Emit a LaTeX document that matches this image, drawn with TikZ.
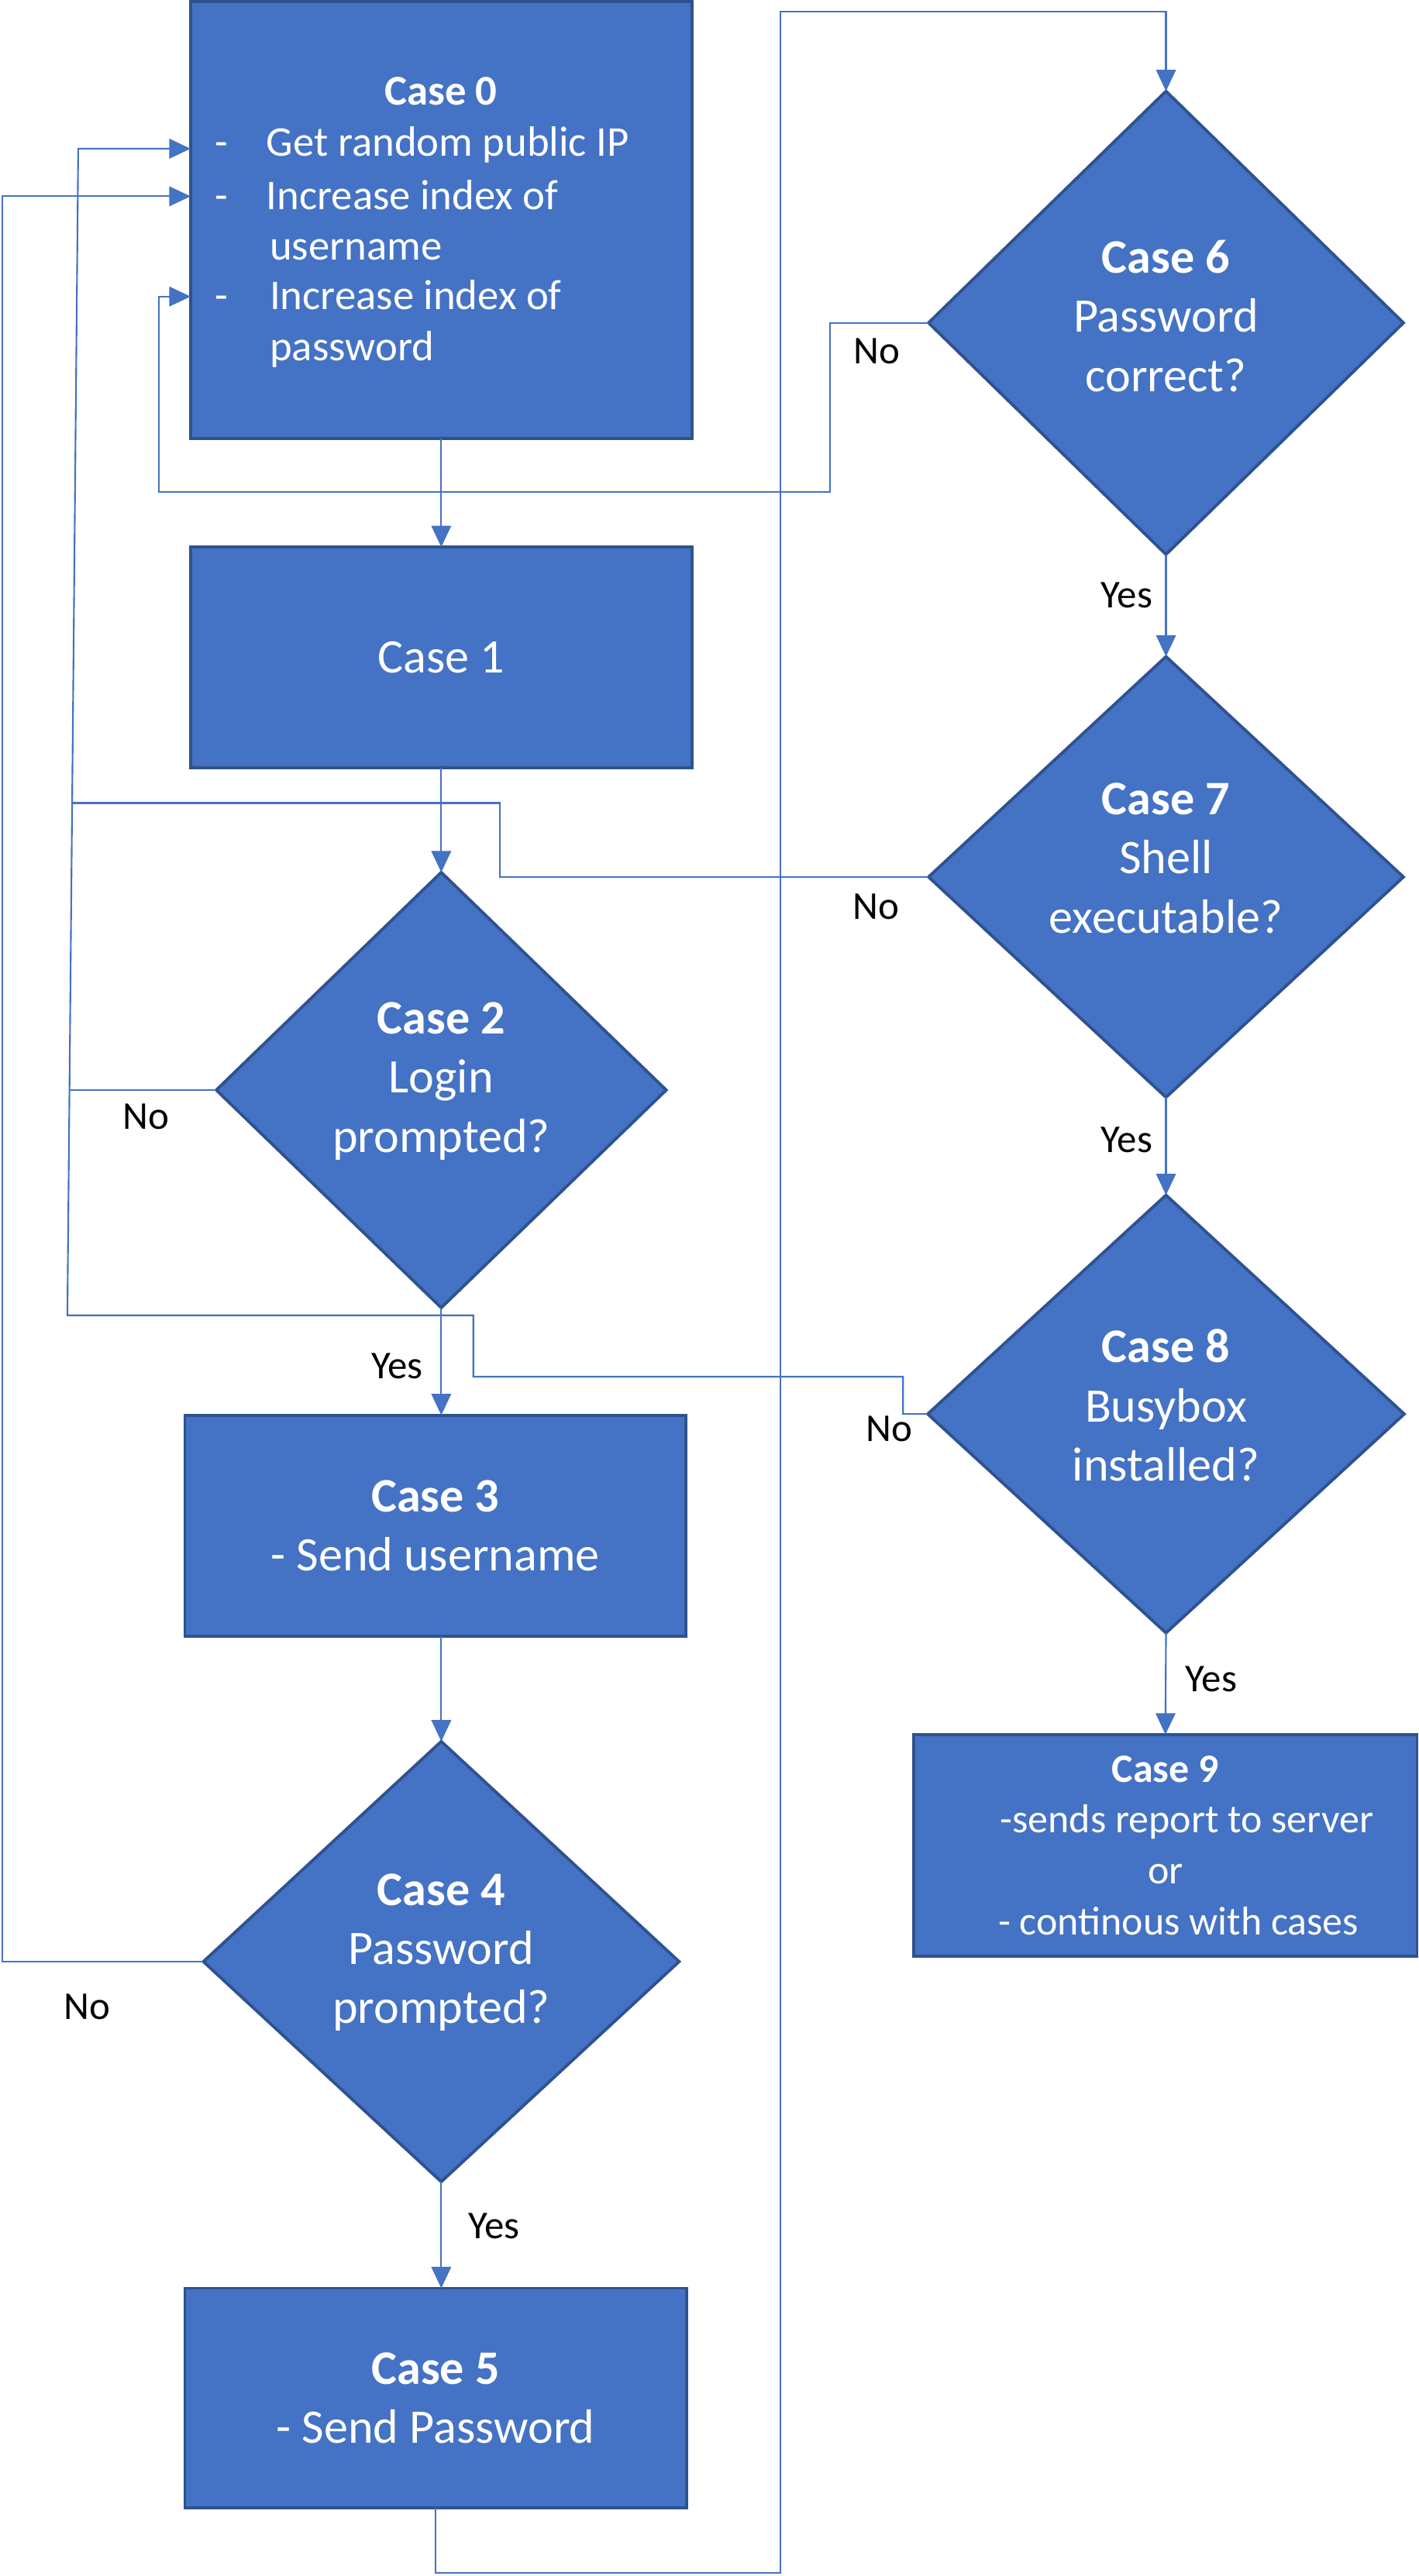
\documentclass[tikz,border=0pt]{standalone}
\usepackage{fontspec}
\setmainfont{Carlito}
\usetikzlibrary{shapes.geometric,arrows.meta}
\definecolor{fillc}{HTML}{4472C4}
\definecolor{bdr}{HTML}{2F528F}
\definecolor{lc}{HTML}{4472C4}
\tikzset{
  box/.style={draw=bdr, fill=fillc, line width=1.8pt, rectangle, inner sep=0pt, outer sep=0pt},
  dia/.style={draw=bdr, fill=fillc, line width=1.8pt, diamond, inner sep=0pt, outer sep=0pt},
  wt/.style={text=white, font=\fontsize{29.3}{36}\selectfont, align=center, inner sep=0pt},
  wts/.style={text=white, font=\fontsize{25.8}{31}\selectfont, inner sep=0pt},
  lbl/.style={text=black, font=\fontsize{24}{29}\selectfont, inner sep=0pt},
  conn/.style={draw=lc, line width=1pt},
  arr/.style={conn, -{Triangle[length=13pt,width=12pt]}},
}
\begin{document}
\begin{tikzpicture}[x=1pt,y=-1pt]
\useasboundingbox (0,0) rectangle (863,1568);

% ---------- shapes ----------
\node[box, minimum width=305pt, minimum height=266pt] (c0) at (268.5,134) {};
\node[box, minimum width=305pt, minimum height=134.4pt, wt] (c1) at (268.5,400.2) {Case 1};
\node[dia, minimum width=273.8pt, minimum height=265pt] (c2) at (268.5,663.5) {};
\node[box, minimum width=304.8pt, minimum height=134.6pt, wt] (c3) at (264.9,928.7) {\textbf{Case 3}\\- Send username};
\node[dia, minimum width=289.5pt, minimum height=268pt] (c4) at (268.5,1194) {};
\node[box, minimum width=305.2pt, minimum height=133.8pt, wt] (c5) at (265.1,1459.7) {\textbf{Case 5}\\- Send Password};
\node[dia, minimum width=289pt, minimum height=282pt] (c6) at (709.5,196.5) {};
\node[dia, minimum width=289pt, minimum height=268.3pt] (c7) at (709.5,533.8) {};
\node[dia, minimum width=290pt, minimum height=266.5pt] (c8) at (709.5,860.7) {};
\node[box, minimum width=306.3pt, minimum height=134.8pt, wt, font=\fontsize{24.5}{31}\selectfont] (c9) at (709.15,1123.2)
  {\textbf{Case 9}\\\hspace*{26pt}-sends report to server\\or\\\hspace*{16pt}- continous with cases};

% ---------- Case 0 text ----------
\node[wts, font=\fontsize{25.8}{31}\selectfont\bfseries, anchor=base] (c0t) at (268.3,64) {Case 0};
\node[wts, anchor=base] (c0d1) at (135,95) {-};
\node[wts, anchor=base] (c0d2) at (135,127.5) {-};
\node[wts, anchor=base] (c0d3) at (135,188.5) {-};
\node[wts, anchor=base west] (c0l1) at (162,95) {Get random public IP};
\node[wts, anchor=base west] (c0l2) at (162,127.5) {Increase index of};
\node[wts, anchor=base west] (c0l3) at (164,158) {username};
\node[wts, anchor=base west] (c0l4) at (164,188.5) {Increase index of};
\node[wts, anchor=base west] (c0l5) at (164,219.5) {password};

% ---------- diamond texts ----------
\node[wt] (c2t) at (268.5,658) {\textbf{Case 2}\\Login\\prompted?};
\node[wt] (c4t) at (268.5,1188.5) {\textbf{Case 4}\\Password\\prompted?};
\node[wt] (c6t) at (709.5,192.3) {\textbf{Case 6}\\Password\\correct?};
\node[wt] (c7t) at (709.5,522.4) {\textbf{Case 7}\\Shell\\executable?};
\node[wt] (c8t) at (709.5,855.4) {\textbf{Case 8}\\Busybox\\installed?};

% ---------- waypoints ----------
\coordinate (k1) at (475,1566);
\coordinate (k2) at (709.5,7);
\coordinate (j1) at (505,299.6);
\coordinate (j2) at (96.5,180.5);
\coordinate (m1) at (304,488.8);
\coordinate (m2) at (43.9,488.8);
\coordinate (m3) at (42.3,663.5);
\coordinate (n1) at (549.5,838);
\coordinate (n2) at (288,800.6);
\coordinate (n3) at (41,800.6);
\coordinate (n4) at (47.6,90.5);
\coordinate (q1) at (1.5,119.5);

% ---------- connectors ----------
\draw[arr] (c0.south) -- (c1.north);
\draw[arr] (c1.south) -- (c2.north);
\draw[arr] (c2.south) -- (c2.south |- c3.north);
\draw[arr] (c4.north |- c3.south) -- (c4.north);
\draw[arr] (c4.south) -- (c4.south |- c5.north);
\draw[arr] (c5.south) |- (k1) |- (k2) -- (c6.north);
\draw[arr] (c6.south) -- (c7.north);
\draw[arr] (c7.south) -- (c8.north);
\draw[arr] (c8.south) -- (c9.north);
\draw[arr] (c6.west) -| (j1) -| (j2) -- (c0.west |- j2);
\draw[conn] (c7.west) -| (m1) -- (m2);
\draw[conn] (c2.west) -- (m3);
\draw[arr] (c8.west) -| (n1) -| (n2) -- (n3) -- (n4) -- (c0.west |- n4);
\draw[arr] (c4.west) -| (q1) -- (c0.west |- q1);

% ---------- labels ----------
\node[lbl] (y23) at (241.6,831.7) {Yes};
\node[lbl] (y45) at (300.6,1354.9) {Yes};
\node[lbl] (y67) at (685.6,362.5) {Yes};
\node[lbl] (y78) at (685.6,693.8) {Yes};
\node[lbl] (y89) at (737,1022) {Yes};
\node[lbl] (n2l) at (88.8,679.8) {No};
\node[lbl] (n4l) at (53,1221.7) {No};
\node[lbl] (n6l) at (533.5,214) {No};
\node[lbl] (n7l) at (533,551.8) {No};
\node[lbl] (n8l) at (541,869.6) {No};
\end{tikzpicture}
\end{document}
